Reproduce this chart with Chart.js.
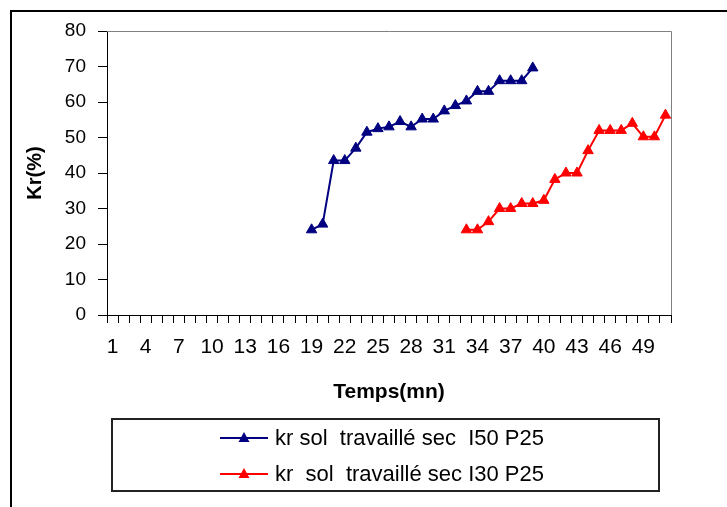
<!DOCTYPE html>
<html lang="fr">
  <head>
    <meta charset="UTF-8" />
    <title>Kr en fonction du temps</title>
    <script src="https://cdn.jsdelivr.net/npm/chart.js"></script>
    <style>
      body {
        margin: 0;
        background: #fff;
      }
      #wrap {
        width: 727px;
        height: 507px;
      }
    </style>
  </head>
  <body>
    <div id="wrap">
      <canvas id="krChart" width="727" height="507"></canvas>
    </div>

    <script>
      // temps (mn): categories 1..51
      const minutes = [
        1, 2, 3, 4, 5, 6, 7, 8, 9, 10, 11, 12, 13, 14, 15, 16, 17, 18, 19, 20,
        21, 22, 23, 24, 25, 26, 27, 28, 29, 30, 31, 32, 33, 34, 35, 36, 37, 38,
        39, 40, 41, 42, 43, 44, 45, 46, 47, 48, 49, 50, 51,
      ];

      const seriesNames = [
        "kr sol  travaillé sec  I50 P25",
        "kr  sol  travaillé sec I30 P25",
      ];

      // I50: from minute 19 to 39
      const krI50 = [
        null, null, null, null, null, null, null, null, null, null,
        null, null, null, null, null, null, null, null,
        24, 25.6, 43.5, 43.5, 47, 51.5, 52.5, 53, 54.5, 53, 55.2, 55.2,
        57.5, 59, 60.3, 63, 63, 66, 66, 66, 69.6,
        null, null, null, null, null, null, null, null, null, null, null, null,
      ];

      // I30: from minute 33 to 51
      const krI30 = [
        null, null, null, null, null, null, null, null, null, null,
        null, null, null, null, null, null, null, null, null, null,
        null, null, null, null, null, null, null, null, null, null,
        null, null,
        24, 24, 26.3, 30, 30, 31.4, 31.4, 32.3, 38.2, 40, 40, 46.3, 52, 52,
        52, 54, 50.2, 50.2, 56.3,
      ];

      const yTicks = [0, 10, 20, 30, 40, 50, 60, 70, 80];

      const FONT = "Arial, 'Liberation Sans', sans-serif";

      // outer frame, plot frame and the boxed legend
      const framePlugin = {
        id: "frame",
        beforeDatasetsDraw(chart) {
          const { ctx, chartArea } = chart;
          ctx.save();
          ctx.strokeStyle = "#808080";
          ctx.lineWidth = 1;
          ctx.beginPath();
          ctx.moveTo(chartArea.left, chartArea.top + 0.5);
          ctx.lineTo(chartArea.right + 0.5, chartArea.top + 0.5);
          ctx.lineTo(chartArea.right + 0.5, chartArea.bottom);
          ctx.stroke();
          ctx.restore();
        },
        afterDraw(chart) {
          const ctx = chart.ctx;
          ctx.save();
          ctx.strokeStyle = "#000";
          ctx.lineWidth = 2;
          ctx.beginPath();
          ctx.moveTo(11, 507);
          ctx.lineTo(11, 11);
          ctx.lineTo(727, 11);
          ctx.stroke();

          // legend
          ctx.lineWidth = 2;
          ctx.strokeStyle = "#222";
          ctx.strokeRect(112, 419, 547, 72);
          const rows = [438, 474];
          chart.data.datasets.forEach((ds, i) => {
            const y = rows[i];
            ctx.strokeStyle = ds.borderColor;
            ctx.lineWidth = 2;
            ctx.beginPath();
            ctx.moveTo(220, y);
            ctx.lineTo(268, y);
            ctx.stroke();
            ctx.fillStyle = ds.backgroundColor;
            ctx.beginPath();
            ctx.moveTo(244, y - 6);
            ctx.lineTo(249.5, y + 4);
            ctx.lineTo(238.5, y + 4);
            ctx.closePath();
            ctx.fill();
            ctx.fillStyle = "#000";
            ctx.font = "22px " + FONT;
            ctx.textBaseline = "middle";
            ctx.textAlign = "left";
            ctx.fillText(ds.label, 275, y + 1);
          });
          ctx.restore();
        },
      };

      const ctx = document.getElementById("krChart").getContext("2d");

      new Chart(ctx, {
        type: "line",
        data: {
          labels: minutes,
          datasets: [
            {
              label: seriesNames[0],
              data: krI50,
              borderColor: "#000080",
              backgroundColor: "#000080",
              borderWidth: 2,
              pointStyle: "triangle",
              pointRadius: 6,
              pointBorderWidth: 1,
              tension: 0,
            },
            {
              label: seriesNames[1],
              data: krI30,
              borderColor: "#ff0000",
              backgroundColor: "#ff0000",
              borderWidth: 2,
              pointStyle: "triangle",
              pointRadius: 6,
              pointBorderWidth: 1,
              tension: 0,
            },
          ],
        },
        options: {
          responsive: false,
          animation: false,
          layout: {
            padding: { left: 0, top: 31, right: 56, bottom: 102 },
          },
          plugins: {
            legend: { display: false },
            tooltip: { enabled: false },
          },
          scales: {
            x: {
              type: "category",
              offset: true,
              grid: {
                offset: true,
                drawOnChartArea: false,
                drawTicks: true,
                tickLength: 8,
                color: "#000",
              },
              border: { color: "#000", width: 1 },
              ticks: {
                autoSkip: false,
                maxRotation: 0,
                padding: 12,
                color: "#000",
                font: { family: FONT, size: 21 },
                callback: function (value, index) {
                  return index % 3 === 0 ? this.getLabelForValue(value) : "";
                },
              },
              title: {
                display: true,
                text: "Temps(mn)",
                color: "#000",
                font: { family: FONT, size: 21, weight: "bold" },
                padding: { top: 0, bottom: 0 },
              },
              afterFit(scale) {
                scale.height = 90;
              },
            },
            y: {
              min: 0,
              max: 80,
              afterBuildTicks(scale) {
                scale.ticks = yTicks.map((v) => ({ value: v }));
              },
              grid: {
                drawOnChartArea: false,
                drawTicks: true,
                tickLength: 9,
                color: "#000",
              },
              border: { color: "#000", width: 1 },
              ticks: {
                padding: 12,
                color: "#000",
                font: { family: FONT, size: 19 },
              },
              title: {
                display: true,
                text: "Kr(%)",
                color: "#000",
                font: { family: FONT, size: 20, weight: "bold" },
                padding: { top: 23, bottom: 0 },
              },
              afterFit(scale) {
                scale.width = 107;
              },
            },
          },
        },
        plugins: [framePlugin],
      });
    </script>
  </body>
</html>
